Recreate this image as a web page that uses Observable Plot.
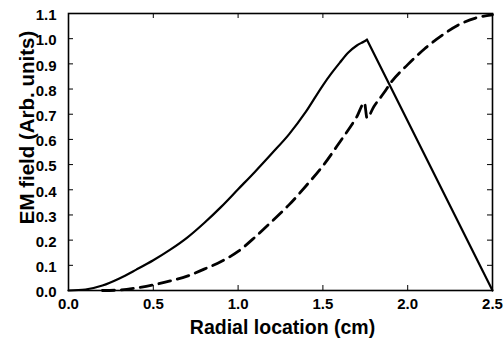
<!DOCTYPE html>
<html>
<head>
<meta charset="utf-8">
<script src="https://cdn.jsdelivr.net/npm/d3@7"></script>
<script src="https://cdn.jsdelivr.net/npm/@observablehq/plot@0.6"></script>
<style>
  html, body { margin: 0; padding: 0; background: #fff; }
  #chart svg { display: block; }
</style>
</head>
<body>
<div id="chart"></div>
<script>
// Solid curve
const solidX = [0, 0.1, 0.2, 0.3, 0.4, 0.5, 0.6, 0.7, 0.8, 0.9, 1.0, 1.1, 1.2, 1.3, 1.4, 1.5, 1.55, 1.6, 1.65, 1.7, 1.74, 1.76, 2.5];
const solidY = [0, 0.004, 0.02, 0.048, 0.083, 0.12, 0.162, 0.21, 0.268, 0.332, 0.402, 0.472, 0.545, 0.62, 0.71, 0.815, 0.862, 0.905, 0.945, 0.973, 0.988, 0.996, 0.0];
const peakX = 1.76;
// Dashed curve
const dashX = [0.2, 0.3, 0.4, 0.5, 0.6, 0.7, 0.8, 0.9, 1.0, 1.1, 1.2, 1.3, 1.4, 1.5, 1.6, 1.7, 1.745, 1.76, 1.8, 1.86, 1.9, 2.0, 2.1, 2.2, 2.3, 2.4, 2.5];
const dashY = [0, 0.002, 0.01, 0.022, 0.038, 0.057, 0.085, 0.115, 0.155, 0.212, 0.275, 0.34, 0.415, 0.495, 0.59, 0.69, 0.745, 0.685, 0.73, 0.785, 0.825, 0.897, 0.96, 1.012, 1.055, 1.082, 1.095];
// Ticks
const xTicks = [0, 0.5, 1.0, 1.5, 2.0, 2.5];
const yTicks = [0, 0.1, 0.2, 0.3, 0.4, 0.5, 0.6, 0.7, 0.8, 0.9, 1.0, 1.1];
const xTitle = "Radial location (cm)";
const yTitle = "EM field (Arb. units)";

const solid = solidX.map((x, i) => ({x, y: solidY[i]}));
const rise = solid.filter(d => d.x <= peakX);
const fall = solid.filter(d => d.x >= peakX);
const dashed = dashX.map((x, i) => ({x, y: dashY[i]}));

const W = 504, H = 339;
const mL = 68, mR = 12, mT = 13, mB = 49;
const iW = W - mL - mR, iH = H - mT - mB;
const font = "Liberation Sans, Arial, Helvetica, sans-serif";

const chart = Plot.plot({
  width: W,
  height: H,
  marginLeft: mL,
  marginRight: mR,
  marginTop: mT,
  marginBottom: mB,
  style: {fontFamily: font, background: "#fff", color: "#000"},
  x: {domain: [0, 2.5]},
  y: {domain: [0, 1.1]},
  marks: [
    Plot.line(rise, {x: "x", y: "y", stroke: "#000", strokeWidth: 2.2, curve: "monotone-x"}),
    Plot.line(fall, {x: "x", y: "y", stroke: "#000", strokeWidth: 2.2}),
    Plot.line(dashed, {x: "x", y: "y", stroke: "#000", strokeWidth: 2.8, strokeDasharray: "12,7", curve: "monotone-x"}),
    // inward ticks
    Plot.tickX(xTicks, {x: d => d, insetTop: iH - 5, stroke: "#000", strokeWidth: 1}),
    Plot.tickX(xTicks, {x: d => d, insetBottom: iH - 5, stroke: "#000", strokeWidth: 1}),
    Plot.tickY(yTicks, {y: d => d, insetRight: iW - 5, stroke: "#000", strokeWidth: 1}),
    Plot.tickY(yTicks, {y: d => d, insetLeft: iW - 5, stroke: "#000", strokeWidth: 1}),
    Plot.frame({stroke: "#000", strokeWidth: 1.6}),
    Plot.axisX({ticks: xTicks, tickSize: 0, tickPadding: 8, tickFormat: d3.format(".1f"), label: null, fontSize: 15, fontWeight: "bold"}),
    Plot.axisY({ticks: yTicks, tickSize: 0, tickPadding: 12, tickFormat: d3.format(".1f"), label: null, fontSize: 15, fontWeight: "bold", dy: 2}),
    Plot.text([xTitle], {text: d => d, frameAnchor: "bottom", textAnchor: "middle", lineAnchor: "bottom", dx: 2, dy: 43, fontSize: 19.5, fontWeight: "bold"}),
    Plot.text([yTitle], {text: d => d, frameAnchor: "left", textAnchor: "middle", lineAnchor: "bottom", rotate: -90, dx: -35, dy: -24.5, fontSize: 20.5, fontWeight: "bold"})
  ]
});
document.getElementById("chart").appendChild(chart);
</script>
</body>
</html>
